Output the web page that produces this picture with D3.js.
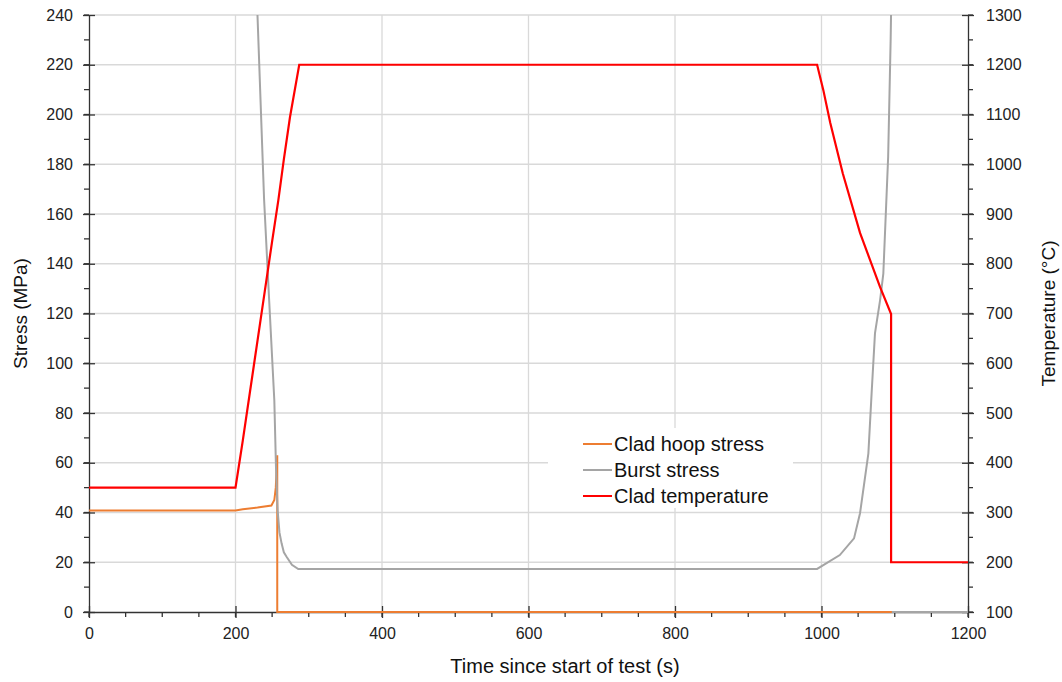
<!DOCTYPE html>
<html><head><meta charset="utf-8">
<script src="https://cdn.jsdelivr.net/npm/d3@7"></script>
<style>
body{margin:0;background:#fff;}
svg{font-family:"Liberation Sans",Arial,sans-serif;}
</style></head>
<body><svg id="c" width="1062" height="682"></svg>
<script>
// ---- data ----
const xTicks = [0,200,400,600,800,1000,1200];
const yLeftTicks = [0,20,40,60,80,100,120,140,160,180,200,220,240];
const yRightTicks = [100,200,300,400,500,600,700,800,900,1000,1100,1200,1300];
const hoopTime   = [0,200,210,230,249,253,255,256.5,257,257,1200];
const hoopStress = [40.8,40.8,41.3,42,42.8,45,50,60,63,0,0];
const burstTime   = [226,230,239,246,253,255.3,257.5,260,262.9,266,269.7,277,285.7,994,1025,1044.4,1052.6,1064,1068.4,1073,1080,1084.4,1091,1094.4,1096,null,1096,1200];
const burstStress = [270,240,166,125,85,58,41,32,27.6,24,22.2,19,17.3,17.3,22.9,29.6,39.7,63.8,87.9,112,125.4,136,183,230,260,null,0,0];
const tempTime = [0,200,210,225,240,250,258.5,266,274.4,287,994,1002.5,1012,1029,1052.6,1080,1095,1095,1200];
const tempVal  = [350,350,445,595,745,845,928,1010,1095,1200,1200,1149,1083,982,862,753,699,200,200];
const seriesNames = ["Clad hoop stress","Burst stress","Clad temperature"];
const colors = ["#ED7D31","#A5A5A5","#FF0000"];

// ---- layout ----
const svg = d3.select("#c");
const L=89, R=968, T=15, B=612;
const x = d3.scaleLinear().domain([0,1200]).range([L,R]);
const yL = d3.scaleLinear().domain([0,240]).range([B,T]);
const yR = d3.scaleLinear().domain([100,1300]).range([B,T]);
const fmt = d3.format("d");

svg.append("defs").append("clipPath").attr("id","clip")
  .append("rect").attr("x",L).attr("y",T).attr("width",R-L).attr("height",B-T+2);

// grid
const g = svg.append("g");
g.selectAll(".hg").data(yLeftTicks.filter(d=>d>0)).join("line")
  .attr("x1",L).attr("x2",R).attr("y1",d=>yL(d)).attr("y2",d=>yL(d))
  .attr("stroke","#d9d9d9").attr("stroke-width",1.3);
g.selectAll(".vg").data(xTicks.filter(d=>d>0&&d<1200)).join("line")
  .attr("y1",T).attr("y2",B).attr("x1",d=>x(d)).attr("x2",d=>x(d))
  .attr("stroke","#d9d9d9").attr("stroke-width",1.3);

function styleAxis(sel){
  sel.select(".domain").attr("stroke","#333").attr("stroke-width",1.3);
  sel.selectAll(".tick line").attr("stroke","#333").attr("stroke-width",1.3);
  sel.selectAll(".tick text").attr("fill","#222").style("font-size","16px");
}
// minor ticks
const minorX = d3.range(0,1201,50);
const minorYL = d3.range(0,241,10);
const minorYR = d3.range(100,1301,50);
svg.append("g").selectAll("line").data(minorX).join("line")
  .attr("x1",d=>x(d)).attr("x2",d=>x(d)).attr("y1",B).attr("y2",B+5).attr("stroke","#333").attr("stroke-width",1.3);
svg.append("g").selectAll("line").data(minorYL).join("line")
  .attr("y1",d=>yL(d)).attr("y2",d=>yL(d)).attr("x1",L-5).attr("x2",L).attr("stroke","#333").attr("stroke-width",1.3);
svg.append("g").selectAll("line").data(minorYR).join("line")
  .attr("y1",d=>yR(d)).attr("y2",d=>yR(d)).attr("x1",R).attr("x2",R+5).attr("stroke","#333").attr("stroke-width",1.3);

const ax = svg.append("g").attr("transform",`translate(0,${B})`)
  .call(d3.axisBottom(x).tickValues(xTicks).tickFormat(fmt).tickSizeInner(6).tickSizeOuter(0).tickPadding(10));
ax.selectAll(".tick line").attr("y1",-6);
styleAxis(ax);
const ayl = svg.append("g").attr("transform",`translate(${L},0)`)
  .call(d3.axisLeft(yL).tickValues(yLeftTicks).tickFormat(fmt).tickSizeInner(6).tickSizeOuter(0).tickPadding(10));
ayl.selectAll(".tick line").attr("x1",6);
styleAxis(ayl);
const ayr = svg.append("g").attr("transform",`translate(${R},0)`)
  .call(d3.axisRight(yR).tickValues(yRightTicks).tickFormat(fmt).tickSizeInner(6).tickSizeOuter(0).tickPadding(12));
ayr.selectAll(".tick line").attr("x1",-6);
styleAxis(ayr);

// series
const plot = svg.append("g").attr("clip-path","url(#clip)");
const lineL = d3.line().defined(d=>d[0]!=null).x(d=>x(d[0])).y(d=>yL(d[1]));
const lineR = d3.line().x(d=>x(d[0])).y(d=>yR(d[1]));
plot.append("path").datum(hoopTime.map((t,i)=>[t,hoopStress[i]]))
  .attr("d",lineL).attr("fill","none").attr("stroke",colors[0]).attr("stroke-width",2);
plot.append("path").datum(burstTime.map((t,i)=>[t,burstStress[i]]))
  .attr("d",lineL).attr("fill","none").attr("stroke",colors[1]).attr("stroke-width",2);
plot.append("path").datum(tempTime.map((t,i)=>[t,tempVal[i]]))
  .attr("d",lineR).attr("fill","none").attr("stroke",colors[2]).attr("stroke-width",2.2);

// legend
const lg = svg.append("g");
lg.append("rect").attr("x",548).attr("y",428).attr("width",245).attr("height",80).attr("fill","#fff");
seriesNames.forEach((n,i)=>{
  const yy = 444 + i*26;
  lg.append("line").attr("x1",583).attr("x2",612).attr("y1",yy).attr("y2",yy)
    .attr("stroke",colors[i]).attr("stroke-width",2);
  lg.append("text").attr("x",614).attr("y",yy+7).text(n)
    .style("font-size","20px").attr("fill","#111");
});

// titles
svg.append("text").attr("x",565).attr("y",673).attr("text-anchor","middle")
  .style("font-size","20px").attr("fill","#111").text("Time since start of test (s)");
svg.append("text").attr("transform",`translate(27,${(T+B)/2}) rotate(-90)`).attr("text-anchor","middle")
  .style("font-size","19px").attr("fill","#111").text("Stress (MPa)");
svg.append("text").attr("transform",`translate(1055,${(T+B)/2}) rotate(-90)`).attr("text-anchor","middle")
  .style("font-size","19px").attr("fill","#111").text("Temperature (°C)");
</script></body></html>
